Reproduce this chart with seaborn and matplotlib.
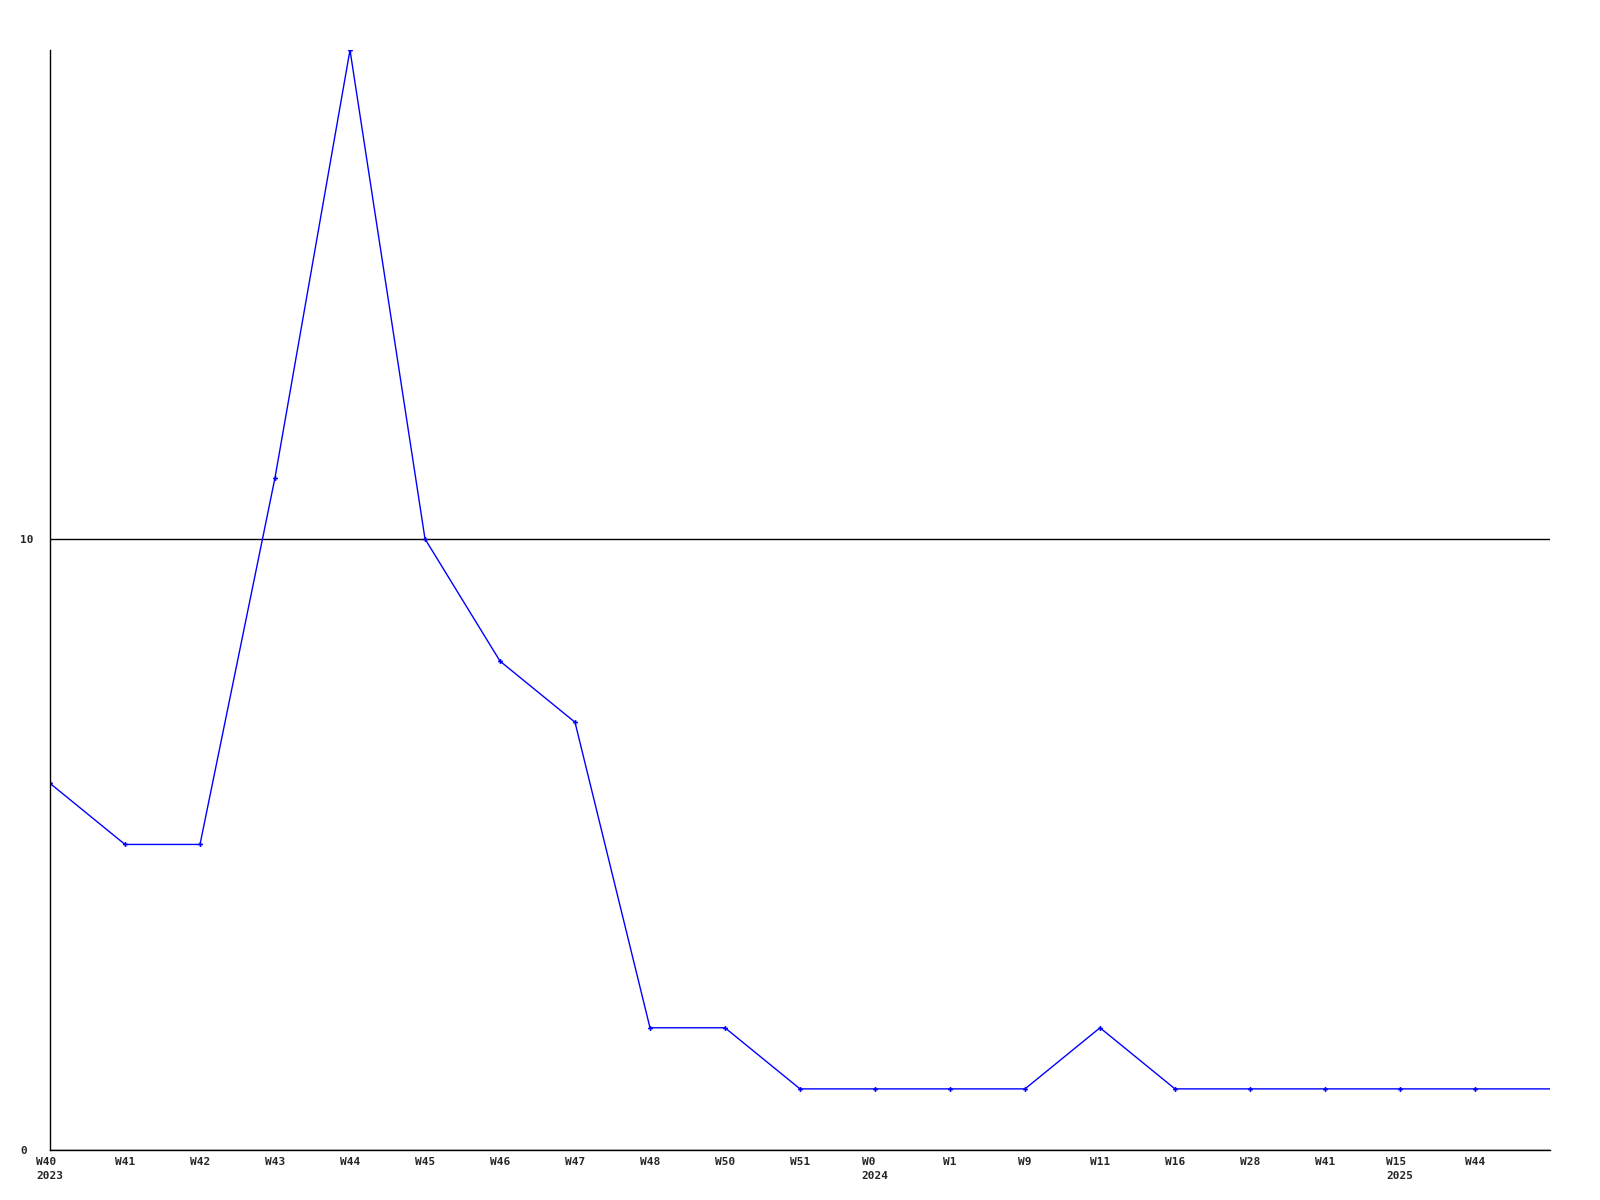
import numpy as np
import pandas as pd
import seaborn as sns
import matplotlib.pyplot as plt

weeks = ['W40\n2023', 'W41', 'W42', 'W43', 'W44', 'W45', 'W46', 'W47', 'W48', 'W50',
         'W51', 'W0\n2024', 'W1', 'W9', 'W11', 'W16', 'W28', 'W41', 'W15\n2025', 'W44', '']
counts = [6, 5, 5, 11, 18, 10, 8, 7, 2, 2,
          1, 1, 1, 1, 2, 1, 1, 1, 1, 1, 1]

df = pd.DataFrame({'pos': np.arange(len(counts)), 'count': counts})

sns.set_style('white')
plt.rcParams['font.family'] = ['DejaVu Sans Mono']

fig = plt.figure(figsize=(16, 12), dpi=100)
ax = fig.add_axes([50 / 1600, 50 / 1200, 1500 / 1600, 1100 / 1200])

sns.lineplot(data=df, x='pos', y='count', ax=ax, color='#0000ff', linewidth=1,
             marker='P', markersize=3.5, markeredgewidth=0, markevery=list(range(len(counts) - 1)))

ax.set_xlim(0, len(counts) - 1)
ax.set_ylim(0, 18)
ax.set_xticks(df['pos'])
ax.set_xticklabels(weeks, fontsize=8, fontweight='bold', multialignment='left', linespacing=1.45)
ax.set_yticks([0, 10])
ax.set_yticklabels(['0', '10'], fontsize=8, fontweight='bold')
for lab in ax.get_yticklabels():
    lab.set_ha('left')
ax.tick_params(axis='y', length=0, pad=21.6)
ax.tick_params(axis='x', length=0, pad=5)
ax.set_xlabel('')
ax.set_ylabel('')

ax.yaxis.grid(True, color='black', linewidth=1)
ax.xaxis.grid(False)
sns.despine(ax=ax, top=True, right=True)
for s in ['left', 'bottom']:
    ax.spines[s].set_color('black')
    ax.spines[s].set_linewidth(1)

fig.savefig('out.png', dpi=100)
